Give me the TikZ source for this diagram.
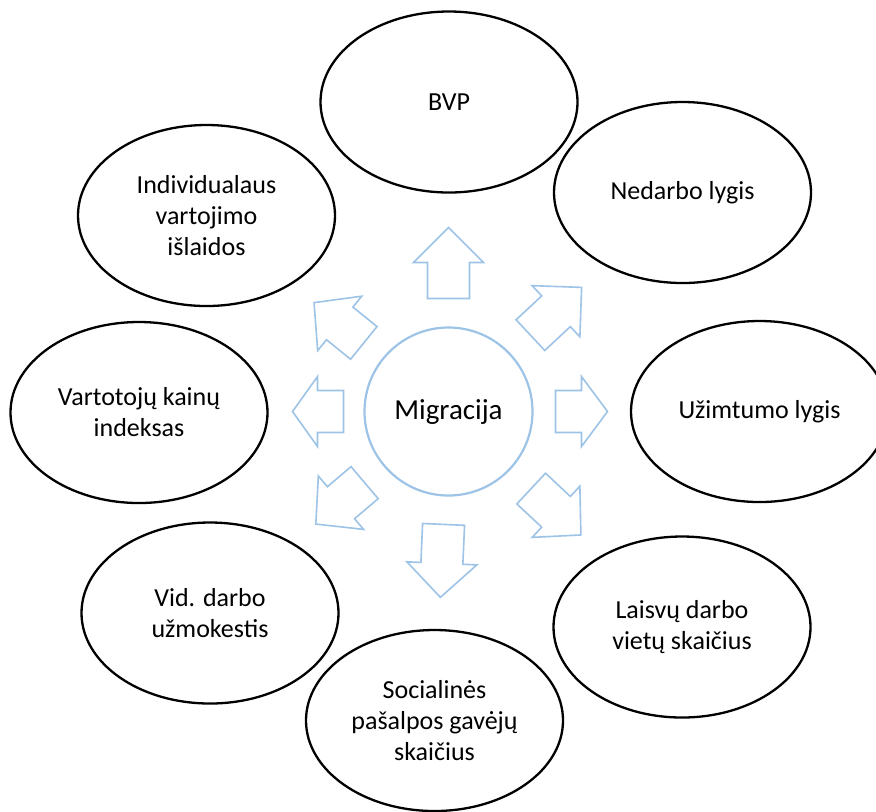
\documentclass[tikz,border=0pt]{standalone}
\usepackage{fontspec}
\setmainfont{Carlito}
\usepackage{xcolor}
\usepackage{tikz}
\usetikzlibrary{shapes.geometric}

\definecolor{lightaccent}{HTML}{9DC3E6}

\tikzset{
  factor/.style={ellipse, draw=black, line width=1.15pt, minimum width=128.5pt,
    minimum height=90.5pt, inner sep=0pt, align=center,
    font=\fontsize{13}{15.5}\selectfont},
  hub/.style={circle, draw=lightaccent, line width=1.1pt, minimum size=84pt,
    inner sep=0pt, font=\fontsize{14.5}{17}\selectfont},
  blockarrow/.style={draw=lightaccent, line width=0.8pt, fill=white}
}

% block arrow out of the hub: angle, start, tip, head length
\newcommand{\migarrow}[4]{%
  \begin{scope}[shift={(mig.center)}, rotate=#1]
    \draw[blockarrow] (#2,-21) -- ({#3-#4},-21) -- ({#3-#4},-35) -- (#3,0)
      -- ({#3-#4},35) -- ({#3-#4},21) -- (#2,21) -- cycle;
  \end{scope}}

\begin{document}
\begin{tikzpicture}[x=0.5pt, y=-0.5pt]
  \useasboundingbox (0,0) rectangle (876,811);

  \node[hub] (mig) at (448.5,411.5) {Migracija};

  \node[factor] (bvp) at (449,102) {BVP};
  \node[factor] (nedarbo) at (682.5,192.5) {Nedarbo lygis};
  \node[factor] (uzimt) at (759.5,411.5) {Užimtumo lygis};
  \node[factor] (laisvos) at (682,627) {Laisvų darbo\\vietų skaičius};
  \node[factor] (soc) at (434.5,720.5) {Socialinės\\pašalpos gavėjų\\skaičius};
  \node[factor] (atlyg) at (210,613) {Vid. darbo\\užmokestis};
  \node[factor] (vki) at (139,412.5) {Vartotojų kainų\\indeksas};
  \node[factor] (ivi) at (206.5,215.5) {Individualaus\\vartojimo\\išlaidos};

  % arrows round the hub
  \migarrow{90}{113}{184}{35}
  \migarrow{43}{112}{182}{35}
  \migarrow{0}{107}{159}{26}
  \migarrow{-43}{113}{181}{34}
  \migarrow{-92.5}{113}{186}{34}
  \migarrow{220.3}{110}{174}{33}
  \migarrow{180}{105}{156}{25}
  \migarrow{141}{109}{173}{33}
\end{tikzpicture}
\end{document}
